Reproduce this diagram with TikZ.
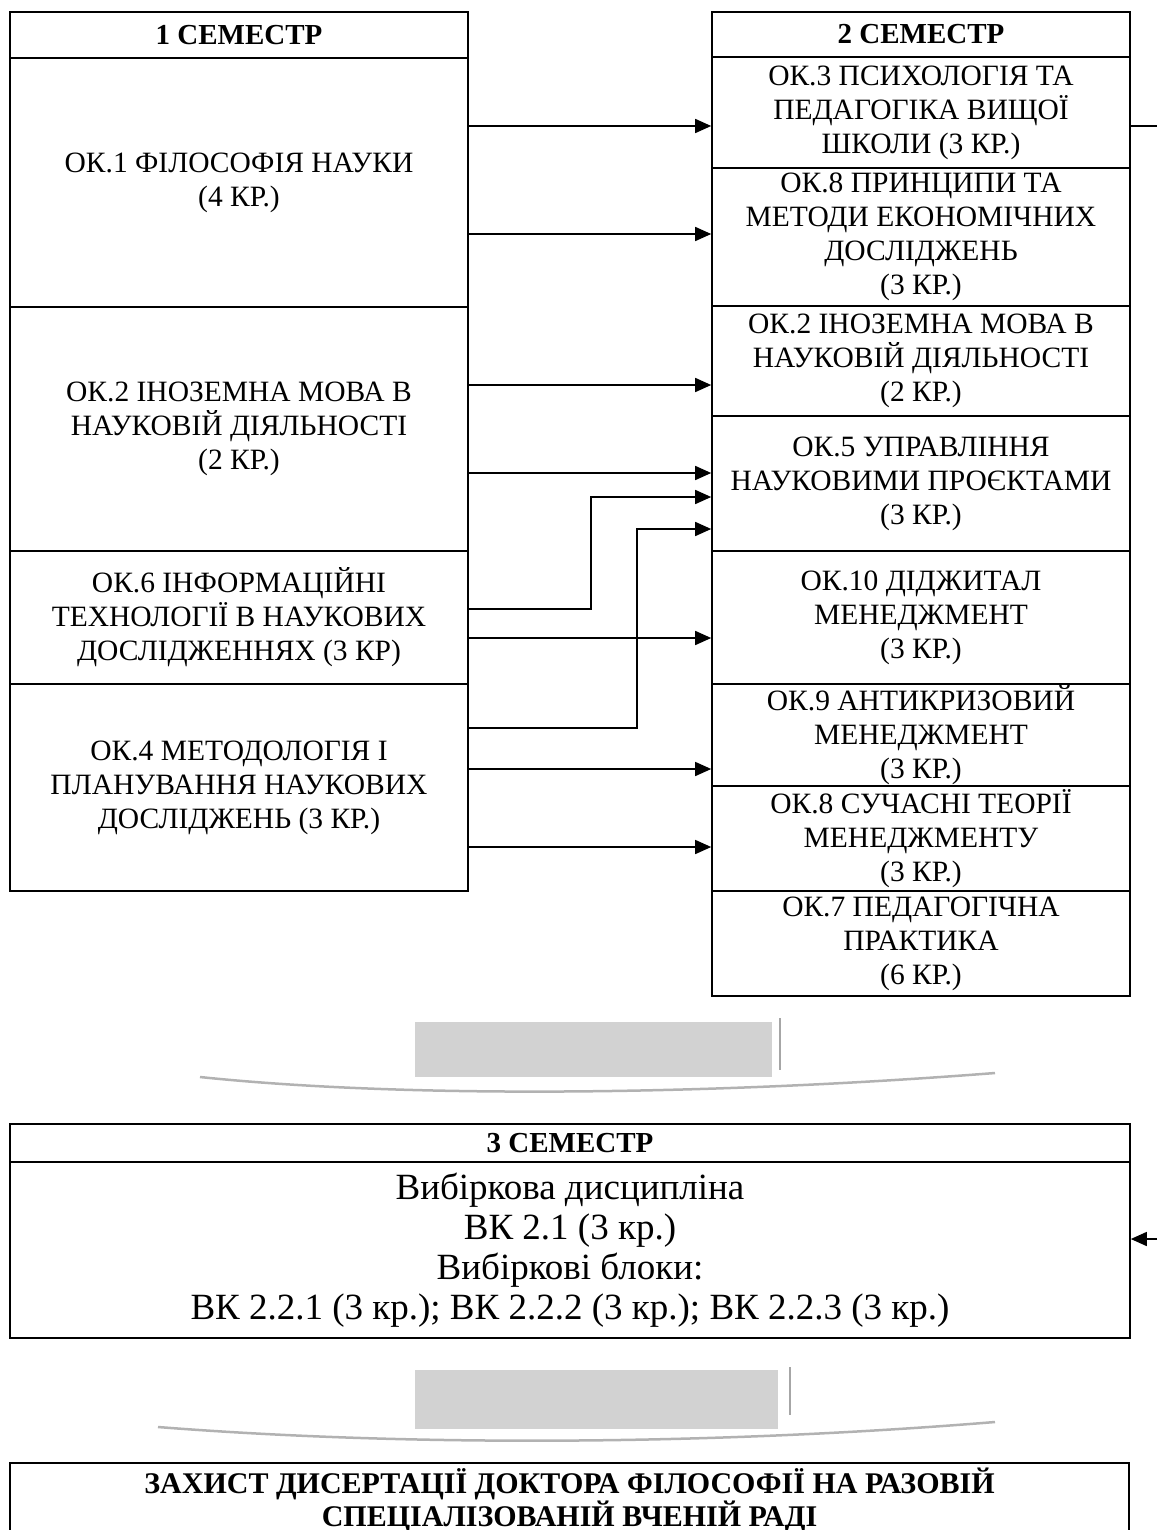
\documentclass[tikz,border=0pt]{standalone}
\usepackage{fontspec}
\setmainfont{Liberation Serif}
\usetikzlibrary{arrows.meta, positioning, calc}

\begin{document}
\begin{tikzpicture}[x=1pt, y=-1pt,
    box/.style={draw, line width=1.6pt, inner sep=0pt, align=center,
      font=\fontsize{29.5}{34}\selectfont},
    lbox/.style={box, minimum width=458pt},
    rbox/.style={box, minimum width=418pt},
    head/.style={box, font=\bfseries\fontsize{29}{32}\selectfont},
    arr/.style={line width=1.5pt, -{Triangle[length=16pt,width=14pt]}},
    plain/.style={line width=1.5pt},
    blockarrow/.style={fill=gray!35},
    shade/.style={gray!60, line width=2.5pt}]
    \useasboundingbox (0,0) rectangle (1157,1530);

    % 1 semester
    \node[head, minimum width=458pt, minimum height=46pt] (sem1) at (239,35) {1 СЕМЕСТР};
    \node[lbox, minimum height=249pt] (ok1) at (239,182.5) {ОК.1 ФІЛОСОФІЯ НАУКИ\\(4 КР.)};
    \node[lbox, minimum height=244pt] (ok2a) at (239,429) {ОК.2 ІНОЗЕМНА МОВА В\\НАУКОВІЙ ДІЯЛЬНОСТІ\\(2 КР.)};
    \node[lbox, minimum height=133pt] (ok6) at (239,617.5) {ОК.6 ІНФОРМАЦІЙНІ\\ТЕХНОЛОГІЇ В НАУКОВИХ\\ДОСЛІДЖЕННЯХ (3 КР)};
    \node[lbox, minimum height=207pt] (ok4) at (239,787.5) {ОК.4 МЕТОДОЛОГІЯ І\\ПЛАНУВАННЯ НАУКОВИХ\\ДОСЛІДЖЕНЬ (3 КР.)};

    % 2 semester
    \node[head, minimum width=418pt, minimum height=45pt] (sem2) at (921,34.5) {2 СЕМЕСТР};
    \node[rbox, minimum height=111pt] (ok3) at (921,112.5) {ОК.3 ПСИХОЛОГІЯ ТА\\ПЕДАГОГІКА ВИЩОЇ\\ШКОЛИ (3 КР.)};
    \node[rbox, minimum height=138pt] (ok8a) at (921,237) {ОК.8 ПРИНЦИПИ ТА\\МЕТОДИ ЕКОНОМІЧНИХ\\ДОСЛІДЖЕНЬ\\(3 КР.)};
    \node[rbox, minimum height=110pt] (ok2b) at (921,361) {ОК.2 ІНОЗЕМНА МОВА В\\НАУКОВІЙ ДІЯЛЬНОСТІ\\(2 КР.)};
    \node[rbox, minimum height=135pt] (ok5) at (921,483.5) {ОК.5 УПРАВЛІННЯ\\НАУКОВИМИ ПРОЄКТАМИ\\(3 КР.)};
    \node[rbox, minimum height=133pt] (ok10) at (921,617.5) {ОК.10 ДІДЖИТАЛ\\МЕНЕДЖМЕНТ\\(3 КР.)};
    \node[rbox, minimum height=102pt] (ok9) at (921,735) {ОК.9 АНТИКРИЗОВИЙ\\МЕНЕДЖМЕНТ\\(3 КР.)};
    \node[rbox, minimum height=105pt] (ok8b) at (921,838.5) {ОК.8 СУЧАСНІ ТЕОРІЇ\\МЕНЕДЖМЕНТУ\\(3 КР.)};
    \node[rbox, minimum height=105pt] (ok7) at (921,943.5) {ОК.7 ПЕДАГОГІЧНА\\ПРАКТИКА\\(6 КР.)};

    % Links between semesters
    \draw[arr] ([yshift=-13.5pt]ok3.west -| ok1.east) -- ([yshift=-13.5pt]ok3.west);
    \draw[arr] ([yshift=3pt]ok8a.west -| ok1.east) -- ([yshift=3pt]ok8a.west);
    \draw[arr] ([yshift=-24pt]ok2b.west -| ok2a.east) -- ([yshift=-24pt]ok2b.west);
    \draw[arr] ([yshift=10.5pt]ok5.west -| ok2a.east) -- ([yshift=10.5pt]ok5.west);
    \draw[arr] ([yshift=8.5pt]ok6.east) -- ++(122,0) |- ([yshift=-13.5pt]ok5.west);
    \draw[arr] ([yshift=59.5pt]ok4.east) -- ++(168,0) |- ([yshift=-45.5pt]ok5.west);
    \draw[arr] ([yshift=-20.5pt]ok10.west -| ok6.east) -- ([yshift=-20.5pt]ok10.west);
    \draw[arr] ([yshift=-34pt]ok9.west -| ok4.east) -- ([yshift=-34pt]ok9.west);
    \draw[arr] ([yshift=-8.5pt]ok8b.west -| ok4.east) -- ([yshift=-8.5pt]ok8b.west);

    % Down arrow 1
    \fill[blockarrow] (415,1022) rectangle (772,1077);
    \draw[gray!70, line width=1.2pt] (780,1018) -- (780,1070);
    \draw[shade] (200,1077) .. controls (400,1098) and (700,1096) .. (995,1073);

    % 3 semester
    \node[head, minimum width=1120pt, minimum height=38pt] (sem3) at (570,1143) {3 СЕМЕСТР};
    \node[box, minimum width=1120pt, minimum height=176pt, font=\fontsize{37}{40}\selectfont] (vk) at (570,1250)
      {Вибіркова дисципліна\\ВК 2.1 (3 кр.)\\Вибіркові блоки:\\ВК 2.2.1 (3 кр.); ВК 2.2.2 (3 кр.); ВК 2.2.3 (3 кр.)};

    % Feedback stubs at the right edge
    \coordinate (fbout) at (1157,126);
    \coordinate (fbin) at (1157,1239);
    \draw[plain] ([yshift=-13.5pt]ok3.east) -- (fbout);
    \draw[arr] (fbin) -- (fbin -| vk.east);

    % Down arrow 2
    \fill[blockarrow] (415,1370) rectangle (778,1429);
    \draw[gray!70, line width=1.2pt] (790,1367) -- (790,1415);
    \draw[shade] (158,1427) .. controls (400,1446) and (700,1446) .. (995,1422);

    % Defense
    \node[box, minimum width=1119pt, minimum height=74pt, font=\bfseries\fontsize{30}{26}\selectfont] (defense) at (569.5,1500)
      {ЗАХИСТ ДИСЕРТАЦІЇ ДОКТОРА ФІЛОСОФІЇ НА РАЗОВІЙ\\СПЕЦІАЛІЗОВАНІЙ ВЧЕНІЙ РАДІ};
\end{tikzpicture}
\end{document}
